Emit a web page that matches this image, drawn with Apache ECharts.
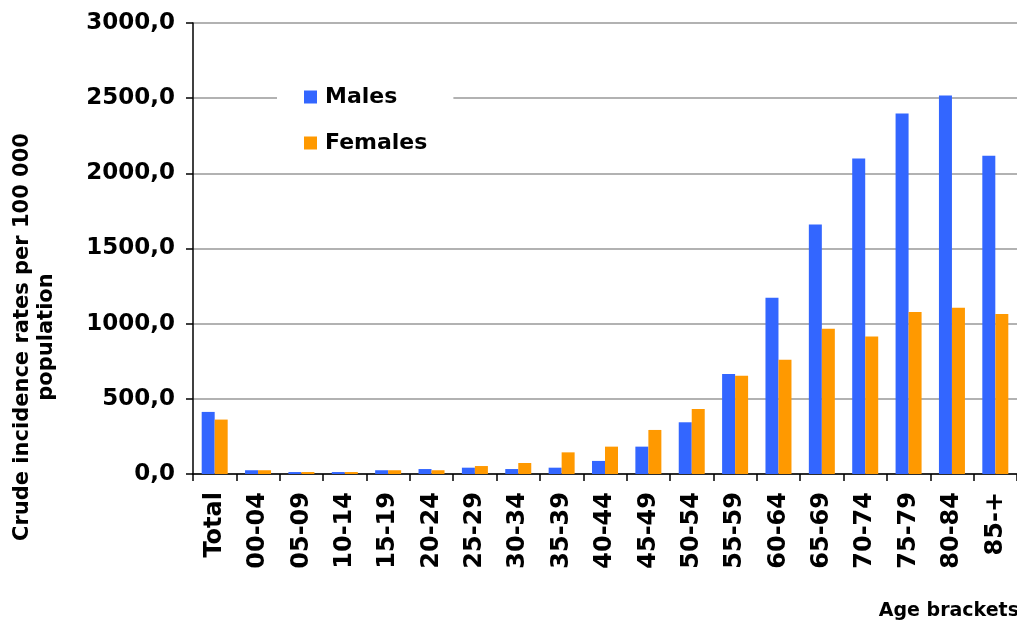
<!DOCTYPE html>
<html>
<head>
<meta charset="utf-8">
<script src="https://cdn.jsdelivr.net/npm/echarts@6/dist/echarts.min.js"></script>
<style>
html,body{margin:0;padding:0;background:#fff;}
#c{width:1017px;height:621px;}
</style>
</head>
<body>
<div id="c"></div>
<script>
var categories = ["Total","00-04","05-09","10-14","15-19","20-24","25-29","30-34","35-39","40-44","45-49","50-54","55-59","60-64","65-69","70-74","75-79","80-84","85-+"];
var males   = [413, 25, 13, 13, 25, 33, 42, 33, 42, 87, 182, 344, 666, 1173, 1659, 2099, 2398, 2518, 2117];
var females = [362, 25, 13, 13, 25, 25, 53, 73, 144, 182, 293, 433, 653, 760, 966, 915, 1077, 1106, 1064];
var yTicks = {min: 0, max: 3000, interval: 500};

var FONT = '"DejaVu Sans", Verdana, sans-serif';
var chart = echarts.init(document.getElementById('c'), null, {renderer: 'canvas'});
chart.setOption({
  backgroundColor: '#ffffff',
  animation: false,
  grid: {left: 193, top: 23, width: 834, height: 451, containLabel: false},
  legend: {
    orient: 'vertical',
    left: 277, top: 76,
    padding: [10, 26, 10, 27],
    backgroundColor: '#ffffff',
    itemWidth: 13, itemHeight: 13, itemGap: 24,
    icon: 'rect',
    textStyle: {fontFamily: FONT, fontWeight: 'bold', fontSize: 22, color: '#000', padding: [0, 0, 0, 3]},
    data: ['Males', 'Females']
  },
  xAxis: {
    type: 'category',
    data: categories,
    boundaryGap: true,
    axisLine: {lineStyle: {color: '#000', width: 1.5}},
    axisTick: {show: true, length: 7, lineStyle: {color: '#000', width: 1.5}},
    axisLabel: {rotate: 90, margin: 18, interval: 0, fontFamily: FONT, fontWeight: 'bold', fontSize: 24, color: '#000'},
    splitLine: {show: false}
  },
  yAxis: {
    type: 'value',
    min: yTicks.min, max: yTicks.max, interval: yTicks.interval,
    axisLine: {show: true, lineStyle: {color: '#000', width: 1.5}},
    axisTick: {show: true, length: 7, lineStyle: {color: '#000', width: 1.5}},
    axisLabel: {
      margin: 18, fontFamily: FONT, fontWeight: 'bold', fontSize: 23, color: '#000',
      formatter: function (v) { return v.toFixed(1).replace('.', ','); }
    },
    splitLine: {show: true, lineStyle: {color: '#999999', width: 1.5}}
  },
  graphic: [
    {
      type: 'text', x: 35, y: 337, rotation: Math.PI / 2,
      style: {
        text: 'Crude incidence rates per 100 000\npopulation',
        font: 'bold 21px ' + FONT, fill: '#000',
        align: 'center', verticalAlign: 'middle', lineHeight: 24
      },
      originX: 0, originY: 0
    },
    {
      type: 'text', right: -2, top: 602,
      style: {text: 'Age brackets', font: 'bold 19px ' + FONT, fill: '#000'}
    }
  ],
  series: [
    {name: 'Males', type: 'bar', data: males, barWidth: 13, barGap: '0%', itemStyle: {color: '#3366FF'}},
    {name: 'Females', type: 'bar', data: females, barWidth: 13, barGap: '0%', itemStyle: {color: '#FF9900'}}
  ]
});
</script>
</body>
</html>
